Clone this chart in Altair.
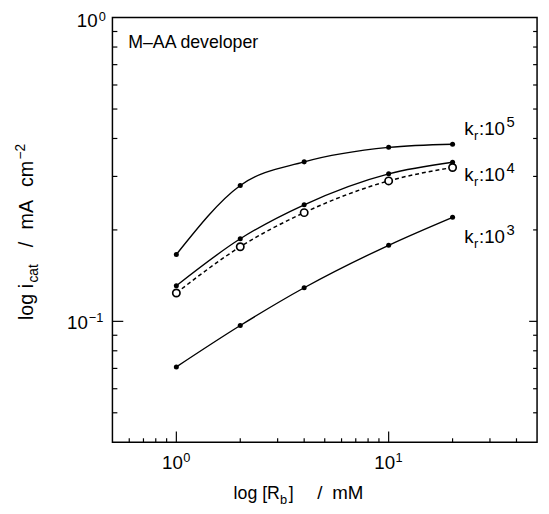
import altair as alt
import pandas as pd

# ---- data ----
conc = [1, 2, 4, 10, 20]                      # [Rb] / mM
kr5 = [0.166, 0.280, 0.335, 0.374, 0.383]     # kr:10^5 (solid, filled dots)
kr4 = [0.131, 0.187, 0.242, 0.306, 0.334]     # kr:10^4 (solid, filled dots)
kr4_open = [0.124, 0.176, 0.228, 0.290, 0.321]  # kr:10^4 (dashed, open circles)
kr3 = [0.0708, 0.0969, 0.129, 0.178, 0.220]   # kr:10^3 (solid, filled dots)

x_major = [1, 10]
x_minor = [0.6, 0.7, 0.8, 0.9, 2, 3, 4, 5, 6, 7, 8, 9, 20, 30, 40]
y_major = [0.1]
y_minor = [0.05, 0.06, 0.07, 0.08, 0.09, 0.2, 0.3, 0.4, 0.5, 0.6, 0.7, 0.8, 0.9]
x_tick_exp = ["0", "1"]

W = H = 431
FONT = "Liberation Sans"

xs = alt.Scale(type="log", domain=[0.5, 50], nice=False)
ys = alt.Scale(type="log", domain=[0.04, 1], nice=False)

solid = pd.DataFrame({
    "x": conc * 3,
    "y": kr5 + kr4 + kr3,
    "s": ["5"] * 5 + ["4"] * 5 + ["3"] * 5,
})
dashed = pd.DataFrame({"x": conc, "y": kr4_open})

X = alt.X("x:Q", scale=xs, axis=None)
Y = alt.Y("y:Q", scale=ys, axis=None)

solid_lines = alt.Chart(solid).mark_line(
    interpolate="monotone", color="black", strokeWidth=1.4
).encode(x=X, y=Y, detail="s:N")
dash_line = alt.Chart(dashed).mark_line(
    interpolate="monotone", color="black", strokeWidth=1.5, strokeDash=[4, 3]
).encode(x=X, y=Y)
dots = alt.Chart(solid).mark_point(
    shape="circle", filled=True, size=26, color="black", opacity=1
).encode(x=X, y=Y)
circles = alt.Chart(dashed).mark_point(
    shape="circle", filled=True, size=55, fill="white", stroke="black",
    strokeWidth=1.7, opacity=1
).encode(x=X, y=Y)

# ---- inward ticks ----
def xticks(vals, length):
    return alt.Chart(pd.DataFrame({"v": vals})).mark_rule(
        color="black", strokeWidth=1.2
    ).encode(x=alt.X("v:Q", scale=xs, axis=None), y=alt.value(H), y2=alt.value(H - length))

def yticks(vals, length, side="left"):
    x0 = 0 if side == "left" else W
    x1 = length if side == "left" else W - length
    return alt.Chart(pd.DataFrame({"v": vals})).mark_rule(
        color="black", strokeWidth=1.2
    ).encode(y=alt.Y("v:Q", scale=ys, axis=None), x=alt.value(x0), x2=alt.value(x1))

ticks = [
    xticks(x_major, 11), xticks(x_minor, 4),
    yticks(y_major, 11), yticks(y_minor, 5),
    yticks(y_major, 8, "right"), yticks(y_minor, 4, "right"),
]

one = pd.DataFrame({"a": [0]})

def txt(text, x, y, size=18, angle=0, align="left"):
    return alt.Chart(one).mark_text(
        text=text, x=x, y=y, fontSize=size, font=FONT, align=align,
        baseline="alphabetic", angle=angle, color="black"
    )

# ---- tick labels ----
xlab = pd.DataFrame({"v": x_major, "e": x_tick_exp})
x_main = alt.Chart(xlab).mark_text(
    text="10", dx=-4, align="center", baseline="alphabetic", fontSize=19, font=FONT, color="black"
).encode(x=alt.X("v:Q", scale=xs, axis=None), y=alt.value(458))
x_exp = alt.Chart(xlab).mark_text(
    dx=7, align="left", baseline="alphabetic", fontSize=13, font=FONT, color="black"
).encode(x=alt.X("v:Q", scale=xs, axis=None), y=alt.value(451), text="e:N")

def ylabel(v, exp, right_main, left_exp, dy):
    d = pd.DataFrame({"v": [v]})
    m = alt.Chart(d).mark_text(
        text="10", align="right", baseline="alphabetic", fontSize=19, font=FONT,
        color="black", dy=dy
    ).encode(y=alt.Y("v:Q", scale=ys, axis=None), x=alt.value(right_main))
    e = alt.Chart(d).mark_text(
        text=exp, align="left", baseline="alphabetic", fontSize=13, font=FONT,
        color="black", dy=dy - 7
    ).encode(y=alt.Y("v:Q", scale=ys, axis=None), x=alt.value(left_exp))
    return [m, e]

ylabels = ylabel(1, "0", -15, -14, 10) + ylabel(0.1, "\u22121", -25, -24, 8)

# ---- axis titles (built from pieces for sub/superscripts) ----
xtitle = [
    txt("log [R", 123, 489, 18),
    txt("b", 170, 494, 13),
    txt("]", 179, 489, 18),
    txt("/", 208, 489, 19),
    txt("mM", 223, 489, 19),
]
ytitle = [
    txt("log i", -81, 307, 20, angle=270),
    txt("cat", -76, 269, 14, angle=270),
    txt("/", -81, 233, 20, angle=270),
    txt("mA", -81, 215, 20, angle=270),
    txt("cm", -81, 172, 20, angle=270),
    txt("\u22122", -89, 144, 14, angle=270),
]

# ---- annotations ----
ann = [txt("M\u2013AA developer", 16, 31, 18)]
def kr_label(base, exp):
    return [
        txt("k", 357, base, 19),
        txt("r", 367, base + 5, 13),
        txt(":10", 372, base, 19),
        txt(exp, 400, base - 8, 15),
    ]
ann += kr_label(119, "5") + kr_label(166, "4") + kr_label(229, "3")

chart = alt.layer(
    *ticks, dash_line, solid_lines, dots, circles,
    x_main, x_exp, *ylabels, *xtitle, *ytitle, *ann
).properties(
    width=W, height=H,
    padding={"left": 106, "top": 6, "right": 4, "bottom": 62},
    autosize=alt.AutoSizeParams(type="none"),
).configure_view(stroke="black", strokeWidth=1.5)

chart.save("out.html", embed_options={"renderer": "svg", "actions": False})
